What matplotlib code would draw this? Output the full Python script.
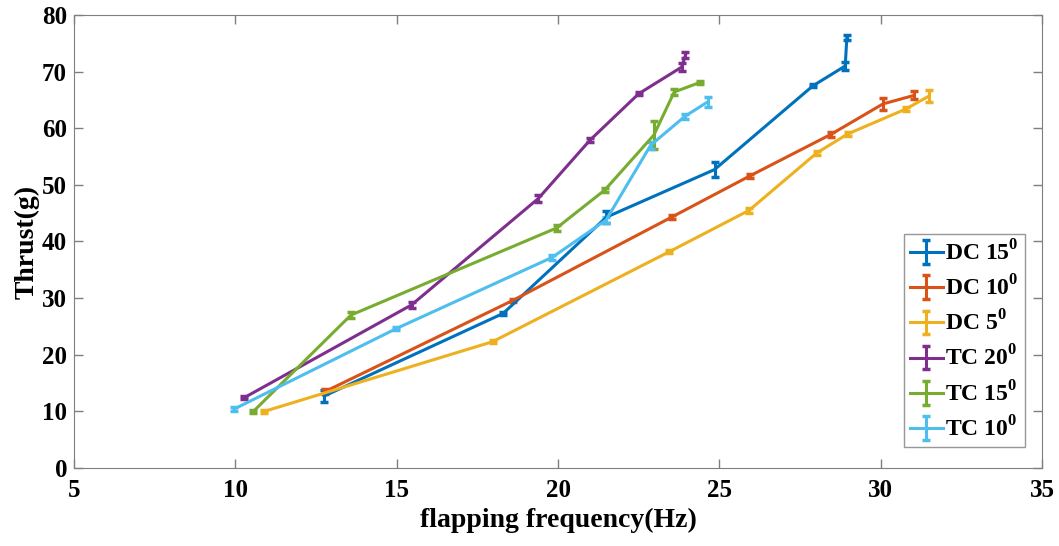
import numpy as np
import matplotlib.pyplot as plt

plt.rcParams['font.family'] = 'Liberation Serif'
plt.rcParams['font.weight'] = 'bold'
plt.rcParams['mathtext.fontset'] = 'custom'
plt.rcParams['mathtext.bf'] = 'Liberation Serif:bold'
plt.rcParams['mathtext.rm'] = 'Liberation Serif:bold'

# data
dc15_f = [12.75, 18.3, 21.5, 24.85, 27.9, 28.9, 28.95]
dc15_t = [12.7, 27.3, 44.3, 52.7, 67.5, 71.0, 76.0]
dc15_e = [1.0, 0.3, 1.0, 1.3, 0.3, 0.7, 0.4]

dc10_f = [12.78, 18.6, 23.52, 25.95, 28.45, 30.07, 31.03]
dc10_t = [13.5, 29.6, 44.3, 51.6, 58.9, 64.3, 65.8]
dc10_e = [0.4, 0.3, 0.3, 0.3, 0.5, 1.1, 0.7]

dc5_f = [10.9, 17.97, 23.45, 25.92, 28.02, 28.98, 30.78, 31.5]
dc5_t = [10.0, 22.3, 38.2, 45.5, 55.65, 59.0, 63.4, 65.7]
dc5_e = [0.3, 0.3, 0.3, 0.4, 0.3, 0.3, 0.3, 1.0]

tc20_f = [10.27, 15.46, 19.39, 20.99, 22.5, 23.83, 23.95]
tc20_t = [12.4, 28.8, 47.6, 57.9, 66.1, 70.8, 72.9]
tc20_e = [0.3, 0.5, 0.6, 0.3, 0.3, 0.7, 0.5]

tc15_f = [10.56, 13.58, 19.96, 21.45, 22.97, 23.6, 24.4]
tc15_t = [10.0, 27.0, 42.4, 49.1, 58.8, 66.4, 68.1]
tc15_e = [0.3, 0.6, 0.5, 0.3, 2.4, 0.5, 0.3]

tc10_f = [9.96, 14.98, 19.82, 21.49, 22.87, 23.93, 24.65]
tc10_t = [10.4, 24.6, 37.2, 43.8, 57.0, 62.1, 64.7]
tc10_e = [0.3, 0.3, 0.4, 0.6, 0.6, 0.4, 0.9]

series = [
    (dc15_f, dc15_t, dc15_e, '#0072BD', r'DC 15$^{\mathbf{0}}$'),
    (dc10_f, dc10_t, dc10_e, '#D95319', r'DC 10$^{\mathbf{0}}$'),
    (dc5_f, dc5_t, dc5_e, '#EDB120', r'DC 5$^{\mathbf{0}}$'),
    (tc20_f, tc20_t, tc20_e, '#7E2F8E', r'TC 20$^{\mathbf{0}}$'),
    (tc15_f, tc15_t, tc15_e, '#77AC30', r'TC 15$^{\mathbf{0}}$'),
    (tc10_f, tc10_t, tc10_e, '#4DBEEE', r'TC 10$^{\mathbf{0}}$'),
]

fig = plt.figure(figsize=(10.59, 5.46), dpi=100)
ax = fig.add_axes([0.0699, 0.1429, 0.9141, 0.8296])

for f, t, e, c, lab in series:
    ax.errorbar(f, t, yerr=e, color=c, lw=2.2, elinewidth=2.2,
                capsize=3, capthick=2.5, label=lab)

ax.set_xlim(5, 35)
ax.set_ylim(0, 80)
ax.set_xticks(np.arange(5, 36, 5))
ax.set_yticks(np.arange(0, 81, 10))
ax.tick_params(direction='in', length=6.5, width=1, top=True, right=True,
               labelsize=18, colors='#7f7f7f', labelcolor='black', pad=5)
ax.tick_params(axis='x', pad=8)
for s in ax.spines.values():
    s.set_color('#7f7f7f')
for lbl in ax.get_xticklabels() + ax.get_yticklabels():
    lbl.set_fontweight('bold')

ax.set_xlabel('flapping frequency(Hz)', fontsize=20, fontweight='bold', labelpad=4)
ax.set_ylabel('Thrust(g)', fontsize=20, fontweight='bold', labelpad=2)

leg = ax.legend(loc='lower right', bbox_to_anchor=(0.982, 0.046),
                fontsize=17, frameon=True, fancybox=False, borderpad=0.25,
                handlelength=1.4, handletextpad=0.1, labelspacing=0.42,
                borderaxespad=0.0)
leg.get_frame().set_edgecolor('#7f7f7f')
leg.get_frame().set_linewidth(1)

plt.savefig('out.png', dpi=100)
